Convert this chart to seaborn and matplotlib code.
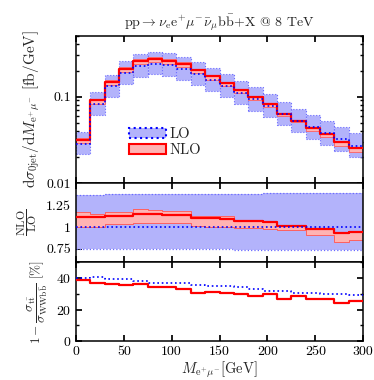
import numpy as np
import matplotlib
matplotlib.use("Agg")
import matplotlib.pyplot as plt
import seaborn as sns
from matplotlib.patches import Patch
from matplotlib.ticker import FixedLocator, NullFormatter, MultipleLocator, LogLocator

# ---------------- data ----------------
mass_edges = [0, 15, 30, 45, 60, 75, 90, 105, 120, 135, 150,
              165, 180, 195, 210, 225, 240, 255, 270, 285, 300]
# LO differential cross section [fb/GeV], one value per bin
lo_xsec = [0.0285, 0.082, 0.131, 0.187, 0.227, 0.240, 0.229, 0.210, 0.184, 0.156,
           0.133, 0.111, 0.093, 0.078, 0.0625, 0.0522, 0.044, 0.0375, 0.032, 0.027]
# NLO/LO ratio (central) and scale bands (normalised to LO)
nlo_ratio = [1.11, 1.11, 1.12, 1.12, 1.15, 1.145, 1.14, 1.14, 1.10, 1.10,
             1.086, 1.071, 1.071, 1.06, 1.01, 1.01, 0.975, 0.975, 0.933, 0.944]
nlo_ratio_hi = [1.165, 1.15, 1.172, 1.172, 1.21, 1.198, 1.184, 1.184, 1.13, 1.13,
                1.12, 1.08, 1.08, 1.07, 1.02, 1.02, 0.985, 0.985, 0.935, 0.95]
nlo_ratio_lo = [1.005, 1.005, 1.03, 1.03, 1.05, 1.05, 1.04, 1.04, 1.01, 1.0,
                0.995, 0.99, 0.99, 0.98, 0.96, 0.96, 0.905, 0.905, 0.83, 0.85]
lo_ratio_hi = [1.365, 1.365, 1.37, 1.37, 1.37, 1.37, 1.375, 1.375, 1.375, 1.38,
               1.38, 1.38, 1.38, 1.385, 1.385, 1.385, 1.39, 1.39, 1.39, 1.39]
lo_ratio_lo = [0.75, 0.75, 0.75, 0.75, 0.75, 0.75, 0.745, 0.745, 0.745, 0.745,
               0.745, 0.74, 0.74, 0.74, 0.74, 0.74, 0.735, 0.735, 0.735, 0.735]
# 1 - sigma_tt / sigma_WWbb [%]
nonres_lo = [40.0, 40.6, 39.1, 39.1, 37.9, 37.1, 37.1, 36.6, 35.8, 35.0,
             34.8, 34.0, 32.7, 31.9, 31.9, 30.6, 30.6, 29.8, 29.8, 29.1]
nonres_nlo = [38.9, 36.9, 36.4, 35.4, 36.4, 34.1, 34.1, 32.7, 30.8, 31.2,
              30.8, 29.8, 28.5, 30.0, 26.6, 28.5, 26.4, 26.4, 24.1, 25.4]

x_ticks = [0, 50, 100, 150, 200, 250, 300]

# ---------------- derived ----------------
edges = np.array(mass_edges, dtype=float)
lo = np.array(lo_xsec)
nlo = lo * np.array(nlo_ratio)
lo_hi = lo * np.array(lo_ratio_hi)
lo_lo = lo * np.array(lo_ratio_lo)
nlo_hi = lo * np.array(nlo_ratio_hi)
nlo_lo = lo * np.array(nlo_ratio_lo)
width = np.diff(edges)


def ext(v):
    v = np.asarray(v, dtype=float)
    return np.append(v, v[-1])


sns.set_theme(style="ticks")
plt.rcParams.update({
    "font.family": "serif",
    "font.serif": ["cmr10", "DejaVu Serif"],
    "mathtext.fontset": "cm",
    "axes.formatter.use_mathtext": True,
    "axes.unicode_minus": False,
    "font.size": 10,
    "axes.linewidth": 1.1,
    "axes.edgecolor": "black",
    "xtick.direction": "in",
    "ytick.direction": "in",
    "xtick.top": True,
    "ytick.right": True,
    "xtick.major.size": 4.5,
    "ytick.major.size": 4.5,
    "xtick.minor.size": 2.5,
    "ytick.minor.size": 2.5,
    "xtick.color": "black",
    "ytick.color": "black",
    "xtick.labelsize": 10,
    "ytick.labelsize": 10,
})

BLUE_FILL = "#b3b3fb"
BLUE_EDGE = "#6a6aff"
BLUE = "#0000ff"
RED_FILL = "#ffb3b3"
RED = "#ff0000"

fig = plt.figure(figsize=(3.74, 3.80), dpi=100)
gs = fig.add_gridspec(3, 1, height_ratios=[146.7, 79, 79], hspace=0,
                      left=0.203, right=0.971, top=0.905, bottom=0.102)
ax1 = fig.add_subplot(gs[0])
ax2 = fig.add_subplot(gs[1], sharex=ax1)
ax3 = fig.add_subplot(gs[2], sharex=ax1)

# ---------- top panel ----------
ax1.bar(edges[:-1], lo_hi - lo_lo, bottom=lo_lo, width=width, align="edge",
        facecolor=BLUE_FILL, edgecolor=BLUE_EDGE, linestyle=":", linewidth=0.8, zorder=1)
ax1.bar(edges[:-1], nlo_hi - nlo_lo, bottom=nlo_lo, width=width, align="edge",
        facecolor=RED_FILL, edgecolor="#ff6060", linewidth=0.6, zorder=2)
sns.lineplot(x=edges, y=ext(nlo), drawstyle="steps-post", color=RED, lw=1.6,
             ax=ax1, zorder=3)
sns.lineplot(x=edges, y=ext(lo), drawstyle="steps-post", color=BLUE, lw=1.2,
             linestyle=":", ax=ax1, zorder=4)
ax1.set_yscale("log")
ax1.set_ylim(0.01, 0.5)
ax1.set_xlim(0, 300)
ax1.yaxis.set_major_locator(FixedLocator([0.01, 0.1]))
ax1.set_yticklabels(["0.01", "0.1"])
ax1.yaxis.set_minor_locator(LogLocator(base=10, subs=np.arange(2, 10)))
ax1.yaxis.set_minor_formatter(NullFormatter())
ax1.set_ylabel(r"$\mathrm{d}\sigma_{0\mathrm{jet}}/\mathrm{d}M_{\mathrm{e}^{+}\mu^{-}}$ [fb/GeV]",
               fontsize=11, labelpad=3)
ax1.set_title(r"$\mathrm{pp}\rightarrow\nu_{\mathrm{e}}\mathrm{e}^{+}\mu^{-}\bar{\nu}_{\mu}"
              r"\mathrm{b}\bar{\mathrm{b}}\!+\!\mathrm{X}$ @ 8 TeV", fontsize=10, pad=7)
handles = [Patch(facecolor=BLUE_FILL, edgecolor=BLUE, linestyle=":", linewidth=1.5),
           Patch(facecolor=RED_FILL, edgecolor=RED, linewidth=1.5)]
ax1.legend(handles, ["LO", "NLO"], loc="upper left", bbox_to_anchor=(0.165, 0.42),
           frameon=False, handlelength=2.55, handleheight=0.7, handletextpad=0.25,
           labelspacing=0.15, fontsize=10.5, borderaxespad=0)
ax1.tick_params(labelbottom=False)

# ---------- ratio panel ----------
ax2.fill_between(edges, ext(lo_ratio_lo), ext(lo_ratio_hi), step="post",
                 facecolor=BLUE_FILL, edgecolor="none", zorder=1)
ax2.step(edges, ext(lo_ratio_hi), where="post", color=BLUE_EDGE, ls=":", lw=0.9, zorder=1.5)
ax2.step(edges, ext(lo_ratio_lo), where="post", color=BLUE_EDGE, ls=":", lw=0.9, zorder=1.5)
ax2.fill_between(edges, ext(nlo_ratio_lo), ext(nlo_ratio_hi), step="post",
                 facecolor=RED_FILL, edgecolor="none", zorder=2)
ax2.step(edges, ext(nlo_ratio_hi), where="post", color="#ff6060", lw=0.7, zorder=2.5)
ax2.step(edges, ext(nlo_ratio_lo), where="post", color="#ff6060", lw=0.7, zorder=2.5)
sns.lineplot(x=edges, y=ext(nlo_ratio), drawstyle="steps-post", color=RED, lw=1.6,
             ax=ax2, zorder=3)
sns.lineplot(x=edges, y=ext(np.ones(len(lo))), drawstyle="steps-post", color=BLUE,
             lw=1.2, linestyle=":", ax=ax2, zorder=4)
ax2.set_ylim(0.6, 1.5)
ax2.set_yticks([0.75, 1.0, 1.25])
ax2.set_yticklabels(["0.75", "1", "1.25"])
ax2.set_ylabel(r"$\dfrac{\mathrm{NLO}}{\mathrm{LO}}$", fontsize=8.5, labelpad=5)
ax2.tick_params(labelbottom=False)

# ---------- non-resonant fraction panel ----------
sns.lineplot(x=edges, y=ext(nonres_nlo), drawstyle="steps-post", color=RED, lw=1.6,
             ax=ax3, zorder=3)
sns.lineplot(x=edges, y=ext(nonres_lo), drawstyle="steps-post", color=BLUE, lw=1.2,
             linestyle=":", ax=ax3, zorder=4)
ax3.set_ylim(0, 50)
ax3.set_yticks([0, 20, 40])
ax3.yaxis.set_minor_locator(MultipleLocator(10))
ax3.set_ylabel(r"$1-\dfrac{\sigma_{\mathrm{t\bar{t}}}}{\sigma_{\mathrm{WWb\bar{b}}}}$ [%]",
               fontsize=9.5, labelpad=4)
ax3.set_xticks(x_ticks)
ax3.set_xticklabels([str(t) for t in x_ticks])
ax3.set_xlabel(r"$M_{\mathrm{e}^{+}\mu^{-}}$[GeV]", fontsize=10.5, labelpad=1)
ax3.set_xlim(0, 300)

for ax in (ax1, ax2, ax3):
    ax.tick_params(which="both", direction="in", top=True, right=True)
    ax.set_xticks(x_ticks)
    for s in ax.spines.values():
        s.set_color("black")

fig.savefig("out.png", dpi=100)
